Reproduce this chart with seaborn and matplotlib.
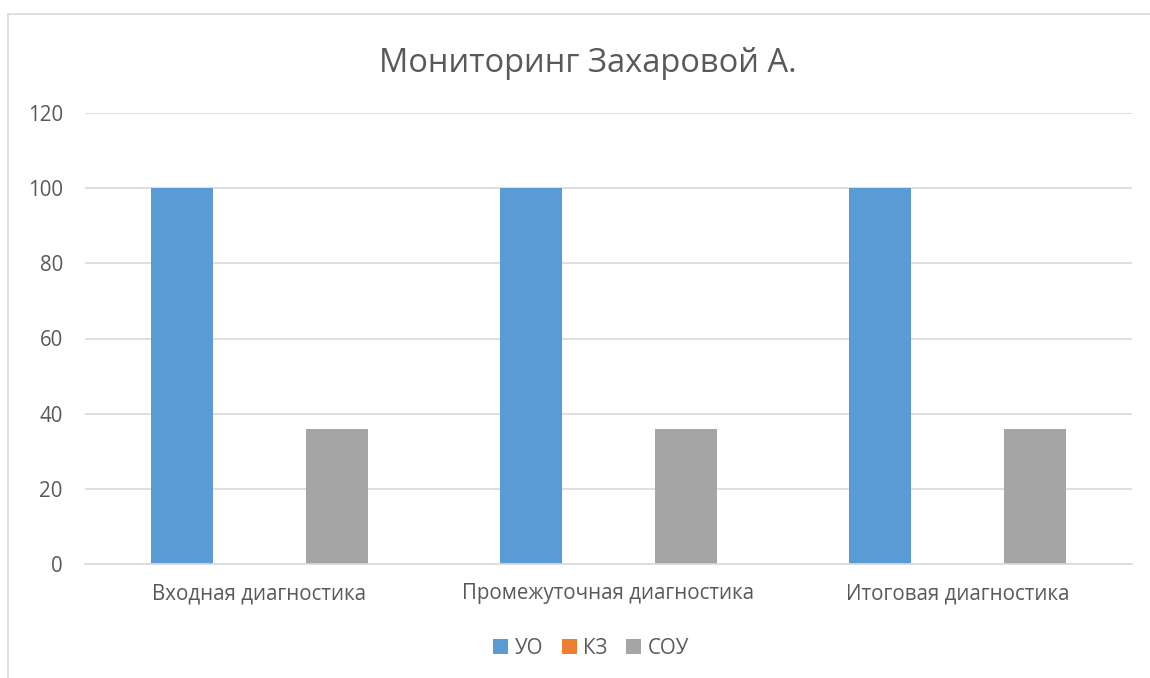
import matplotlib
matplotlib.use("Agg")
import matplotlib.pyplot as plt
import seaborn as sns
import pandas as pd
from matplotlib.patches import Rectangle

categories = ["Входная диагностика", "Промежуточная диагностика", "Итоговая диагностика"]
series_names = ["УО", "КЗ", "СОУ"]
uo = [100, 100, 100]
kz = [0, 0, 0]
sou = [36, 36, 36]
yticks = [0, 20, 40, 60, 80, 100, 120]
colors = ["#5B9BD5", "#ED7D31", "#A5A5A5"]

rows = []
for i, c in enumerate(categories):
    for name, vals in zip(series_names, [uo, kz, sou]):
        rows.append({"cat": c, "series": name, "val": vals[i]})
df = pd.DataFrame(rows)

sns.set_theme(style="white")
plt.rcParams['font.family'] = ['Open Sans', 'DejaVu Sans']
text_color = "#595959"
fs = 14.8

fig = plt.figure(figsize=(11.5, 6.78), dpi=100)
ax = fig.add_axes([85/1150, 1-564/678, (1132-85)/1150, (564-113)/678])

sns.barplot(data=df, x="cat", y="val", hue="series", palette=colors,
            order=categories, hue_order=series_names, width=0.666, gap=0.21,
            ax=ax, legend=True, saturation=1, linewidth=0)

ax.set_ylim(0, 120)
ax.set_yticks(yticks)
ax.set_yticklabels([str(t) for t in yticks], fontsize=fs, color=text_color)
ax.set_xlim(-0.5, 2.5)
ax.tick_params(axis='x', labelsize=fs, colors=text_color, length=0, pad=14)
ax.tick_params(axis='y', length=0, pad=16)
ax.set_xlabel("")
ax.set_ylabel("")
ax.grid(axis='y', color="#D9D9D9", linewidth=1.2)
ax.set_axisbelow(True)
for s in ["top", "right", "left"]:
    ax.spines[s].set_visible(False)
ax.spines["bottom"].set_color("#D9D9D9")
ax.spines["bottom"].set_linewidth(1.2)

fig.text(0.511, 1-63/678, "Мониторинг Захаровой А.", ha="center", va="center",
         fontsize=23.5, color=text_color)

leg = ax.legend(loc="center", bbox_to_anchor=(591/1150, 1-648/678),
                bbox_transform=fig.transFigure, ncol=3, frameon=False,
                fontsize=fs, handlelength=0.75, handleheight=0.75,
                handletextpad=0.3, columnspacing=0.9)
for t in leg.get_texts():
    t.set_color(text_color)

fig.patches.append(Rectangle((8/1150, -0.1), 1.2, 1-14/678+0.1,
                             transform=fig.transFigure, fill=False,
                             edgecolor="#D9D9D9", linewidth=1.2))

fig.savefig("out.png", dpi=100)
